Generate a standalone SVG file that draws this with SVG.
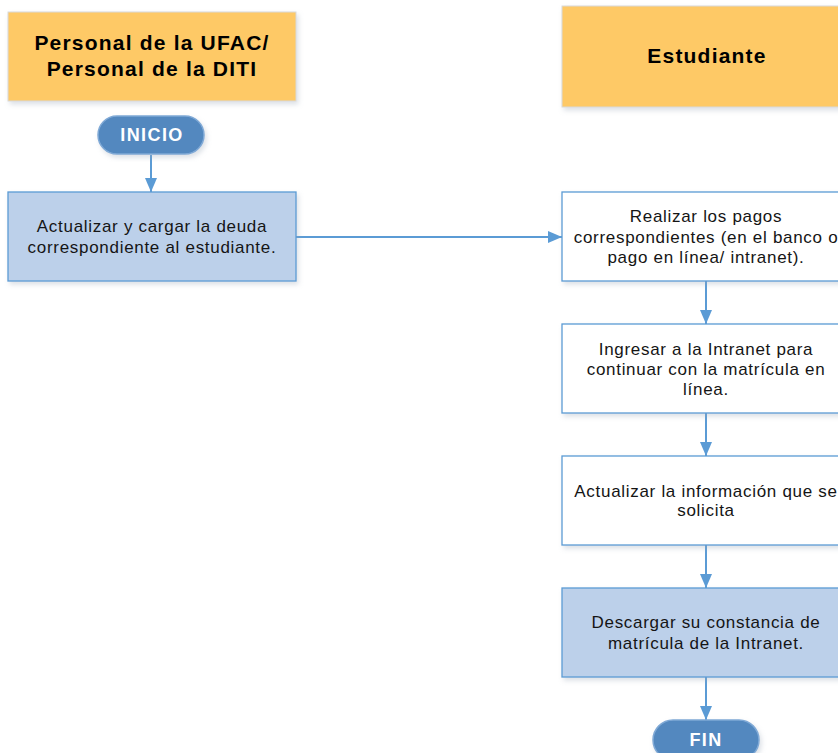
<svg xmlns="http://www.w3.org/2000/svg" width="838" height="753" viewBox="0 0 838 753">
  <defs>
    <filter id="shadow" x="-10%" y="-10%" width="120%" height="130%">
      <feDropShadow dx="2" dy="3" stdDeviation="2.5" flood-color="#9aa7b8" flood-opacity="0.35"/>
    </filter>
    <marker id="arrow" viewBox="0 0 14 12" refX="14" refY="6" markerWidth="14" markerHeight="12" markerUnits="userSpaceOnUse" orient="auto">
      <path d="M0,0 L14,6 L0,12 Z" fill="#5B9BD5"/>
    </marker>
    <style>
      .lane { fill: #FEC966; stroke: #D9D9D9; stroke-width: 1; filter: url(#shadow); }
      .lane-text { font-family: "Liberation Sans", Arial, sans-serif; font-weight: bold; font-size: 21px; letter-spacing: 1.2px; fill: #000; text-anchor: middle; }
      .step { stroke: #5B9BD5; stroke-width: 1.3; filter: url(#shadow); }
      .blue { fill: #BCD0EA; }
      .white { fill: #FFFFFF; }
      .step-text { font-family: "Liberation Sans", Arial, sans-serif; font-size: 17px; letter-spacing: 0.7px; fill: #151515; text-anchor: middle; }
      .term { fill: #5388BF; stroke: #7FA9D6; stroke-width: 1.5; filter: url(#shadow); }
      .term-text { font-family: "Liberation Sans", Arial, sans-serif; font-weight: bold; font-size: 18px; letter-spacing: 1.4px; fill: #FFFFFF; text-anchor: middle; }
      .conn { stroke: #5B9BD5; stroke-width: 2; fill: none; marker-end: url(#arrow); }
    </style>
  </defs>

  <rect width="838" height="753" fill="#FFFFFF"/>

  <!-- swimlane headers -->
  <g id="lane-personal">
    <rect class="lane" x="8" y="12" width="288" height="89"/>
    <text class="lane-text" x="152" y="50">Personal de la UFAC/</text>
    <text class="lane-text" x="152" y="76">Personal de la DITI</text>
  </g>
  <g id="lane-estudiante">
    <rect class="lane" x="562" y="6" width="290" height="101"/>
    <text class="lane-text" x="707" y="63">Estudiante</text>
  </g>

  <!-- connectors -->
  <g id="connectors">
    <line class="conn" x1="151" y1="155" x2="151" y2="192"/>
    <line class="conn" x1="296" y1="237" x2="562" y2="237"/>
    <line class="conn" x1="706" y1="281" x2="706" y2="324"/>
    <line class="conn" x1="706" y1="413" x2="706" y2="456"/>
    <line class="conn" x1="706" y1="545" x2="706" y2="588"/>
    <line class="conn" x1="706" y1="677" x2="706" y2="720"/>
  </g>

  <g id="inicio">
    <rect class="term" x="98" y="116" width="106" height="38" rx="19"/>
    <text class="term-text" x="152" y="141">INICIO</text>
  </g>

  <g id="actualizar-deuda">
    <rect class="step blue" x="8" y="192" width="288" height="89"/>
    <text class="step-text" x="152" y="232">Actualizar y cargar la deuda</text>
    <text class="step-text" x="152" y="253">correspondiente al estudiante.</text>
  </g>

  <g id="realizar-pagos">
    <rect class="step white" x="562" y="192" width="288" height="89"/>
    <text class="step-text" x="706" y="222">Realizar los pagos</text>
    <text class="step-text" x="706" y="243">correspondientes (en el banco o</text>
    <text class="step-text" x="706" y="263">pago en línea/ intranet).</text>
  </g>

  <g id="ingresar-intranet">
    <rect class="step white" x="562" y="324" width="288" height="89"/>
    <text class="step-text" x="706" y="355">Ingresar a la Intranet para</text>
    <text class="step-text" x="706" y="375">continuar con la matrícula en</text>
    <text class="step-text" x="706" y="395">línea.</text>
  </g>

  <g id="actualizar-info">
    <rect class="step white" x="562" y="456" width="288" height="89"/>
    <text class="step-text" x="706" y="497">Actualizar la información que se</text>
    <text class="step-text" x="706" y="516">solicita</text>
  </g>

  <g id="descargar-constancia">
    <rect class="step blue" x="562" y="588" width="288" height="89"/>
    <text class="step-text" x="706" y="628">Descargar su constancia de</text>
    <text class="step-text" x="706" y="649">matrícula de la Intranet.</text>
  </g>

  <g id="fin">
    <rect class="term" x="653" y="720" width="106" height="40" rx="20"/>
    <text class="term-text" x="706" y="746">FIN</text>
  </g>
</svg>
